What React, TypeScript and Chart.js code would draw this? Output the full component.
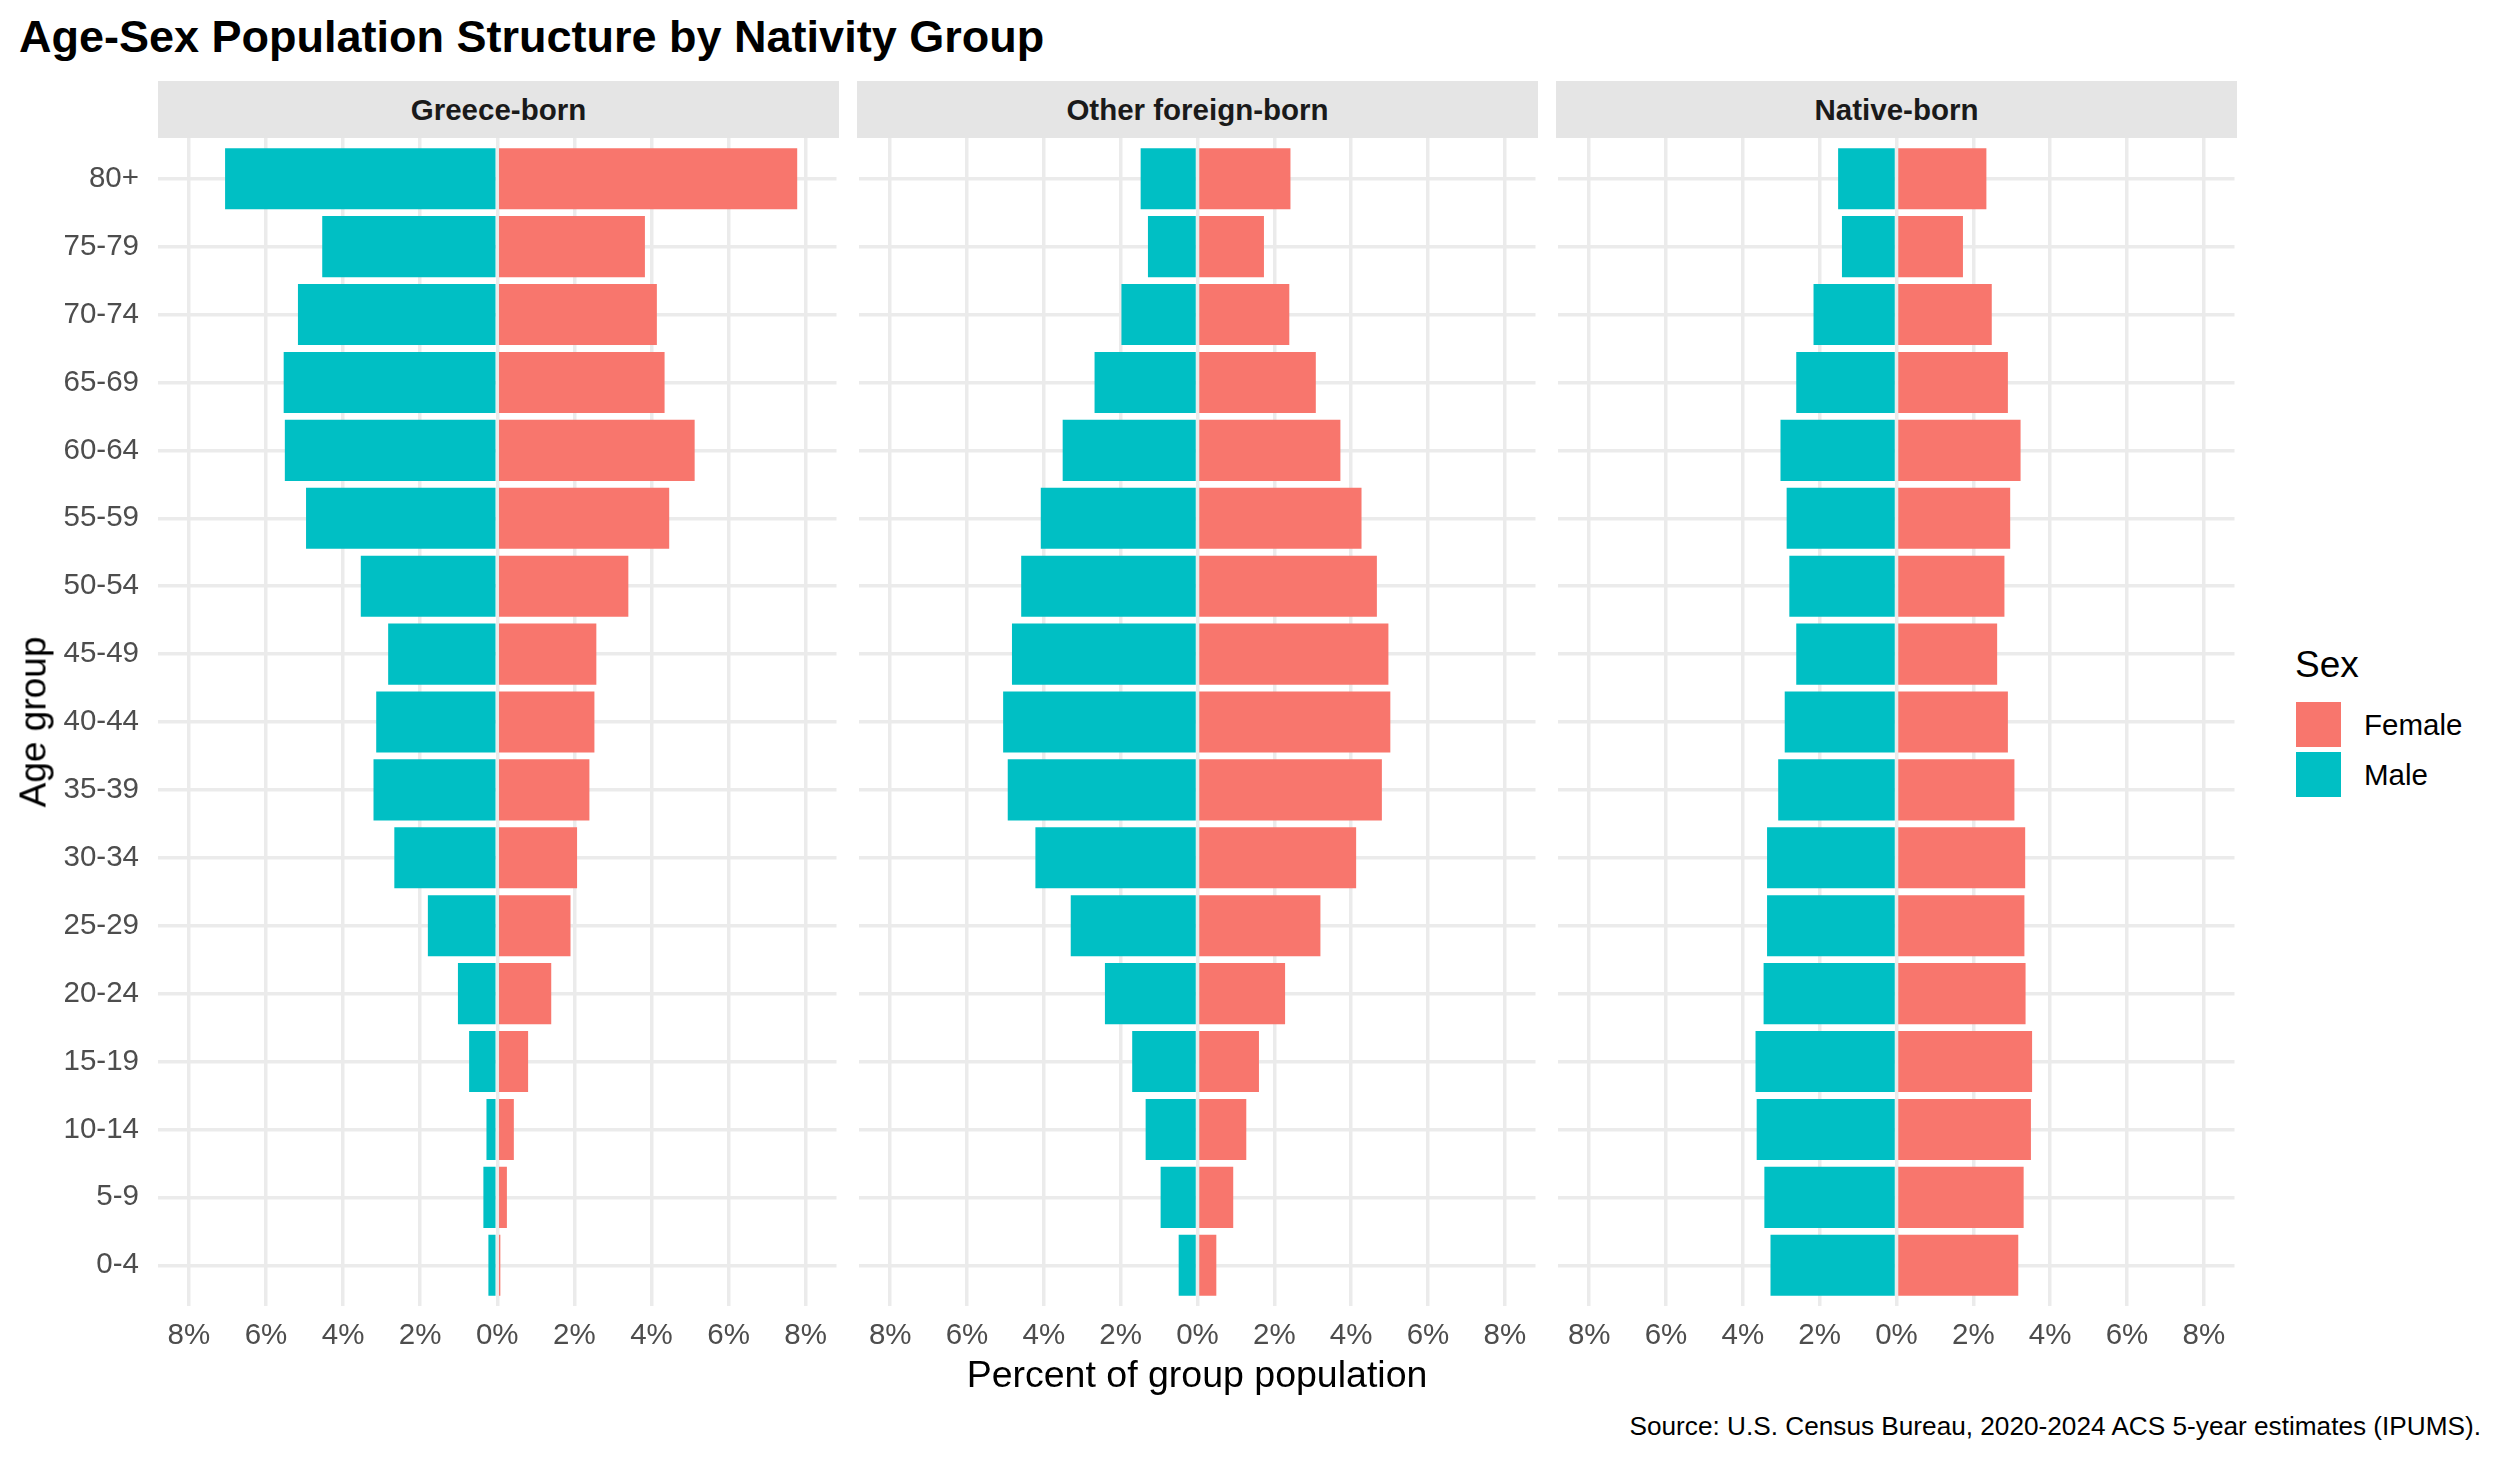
import React, { useEffect, useRef } from 'react';
import { Chart, registerables } from 'chart.js';

Chart.register(...registerables);

// ---------- data ----------
const ageGroups = ['80+', '75-79', '70-74', '65-69', '60-64', '55-59', '50-54', '45-49', '40-44', '35-39', '30-34', '25-29', '20-24', '15-19', '10-14', '5-9', '0-4'];
const panelNames = ['Greece-born', 'Other foreign-born', 'Native-born'];
const sexLabels = ['Female', 'Male'];

const greeceFemale = [7.78, 3.83, 4.14, 4.34, 5.12, 4.46, 3.40, 2.57, 2.52, 2.39, 2.07, 1.90, 1.40, 0.80, 0.43, 0.25, 0.08];
const greeceMale = [7.06, 4.54, 5.17, 5.54, 5.51, 4.96, 3.54, 2.83, 3.14, 3.21, 2.67, 1.80, 1.02, 0.73, 0.28, 0.36, 0.23];
const otherFemale = [2.42, 1.73, 2.39, 3.08, 3.72, 4.27, 4.67, 4.97, 5.02, 4.80, 4.13, 3.20, 2.28, 1.60, 1.27, 0.93, 0.49];
const otherMale = [1.48, 1.29, 1.98, 2.68, 3.51, 4.08, 4.59, 4.83, 5.06, 4.94, 4.22, 3.30, 2.41, 1.70, 1.35, 0.96, 0.49];
const nativeFemale = [2.34, 1.73, 2.48, 2.90, 3.23, 2.96, 2.81, 2.62, 2.90, 3.07, 3.35, 3.33, 3.36, 3.53, 3.50, 3.31, 3.17];
const nativeMale = [1.52, 1.42, 2.16, 2.61, 3.02, 2.86, 2.79, 2.61, 2.91, 3.08, 3.37, 3.37, 3.46, 3.67, 3.64, 3.44, 3.28];

const femaleSeries = [greeceFemale, otherFemale, nativeFemale];
const maleSeries = [greeceMale, otherMale, nativeMale];

const xTickValues = [-8, -6, -4, -2, 0, 2, 4, 6, 8];

// ---------- styles ----------
const FONT = '"Liberation Sans", Arial, Helvetica, sans-serif';
const FEMALE_COLOR = '#F8766D';
const MALE_COLOR = '#00BFC4';
const GRID_COLOR = '#EBEBEB';
const TICK_COLOR = '#4D4D4D';

const PLOT_TOP = 138;
const PLOT_H = 1168;
const PANEL_W = 681;
const PANEL_LEFT = [158, 857, 1556];
const X_AXIS_H = 60;
const Y_AXIS_W = 158;

function Panel({ idx }: { idx: number }) {
  const ref = useRef<HTMLCanvasElement>(null);
  useEffect(() => {
    const female = femaleSeries[idx];
    const male = maleSeries[idx];
    const chart = new Chart(ref.current as HTMLCanvasElement, {
      type: 'bar',
      data: {
        datasets: [
          {
            label: sexLabels[0],
            data: female.map((v, i) => ({ x: v, y: i })),
            backgroundColor: FEMALE_COLOR,
            borderWidth: 0,
            categoryPercentage: 0.9,
            barPercentage: 1,
          },
          {
            label: sexLabels[1],
            data: male.map((v, i) => ({ x: -v, y: i })),
            backgroundColor: MALE_COLOR,
            borderWidth: 0,
            categoryPercentage: 0.9,
            barPercentage: 1,
          },
        ],
      } as any,
      options: {
        indexAxis: 'y',
        responsive: false,
        animation: false,
        layout: { padding: 0 },
        plugins: { legend: { display: false }, tooltip: { enabled: false } },
        scales: {
          x: {
            type: 'linear',
            min: -8.8,
            max: 8.8,
            offset: false,
            stacked: true,
            afterBuildTicks: (s: any) => {
              s.ticks = xTickValues.map((v) => ({ value: v }));
            },
            afterFit: (s: any) => {
              s.height = X_AXIS_H;
            },
            grid: { color: GRID_COLOR, lineWidth: 3.5, drawTicks: false, offset: false },
            border: { display: false },
            ticks: {
              autoSkip: false,
              maxRotation: 0,
              minRotation: 0,
              padding: 12,
              color: TICK_COLOR,
              font: { family: FONT, size: 29.5 },
              callback: (v: any) => Math.abs(Number(v)) + '%',
            },
          },
          y: {
            type: 'linear',
            min: -0.6,
            max: 16.6,
            reverse: true,
            offset: false,
            stacked: true,
            afterBuildTicks: (s: any) => {
              s.ticks = ageGroups.map((_, i) => ({ value: i }));
            },
            afterFit: (s: any) => {
              s.width = idx === 0 ? Y_AXIS_W : 0;
              s.paddingTop = 0;
              s.paddingBottom = 0;
            },
            grid: { color: GRID_COLOR, lineWidth: 3.5, drawTicks: false, offset: false },
            border: { display: false },
            ticks: {
              display: idx === 0,
              autoSkip: false,
              padding: 19,
              color: TICK_COLOR,
              font: { family: FONT, size: 29.5 },
              callback: (v: any) => ageGroups[Number(v)],
            },
          },
        },
      } as any,
    });
    return () => chart.destroy();
  }, [idx]);

  const left = idx === 0 ? 0 : PANEL_LEFT[idx];
  const width = idx === 0 ? Y_AXIS_W + PANEL_W : PANEL_W;
  return (
    <canvas
      ref={ref}
      width={width}
      height={PLOT_H + X_AXIS_H}
      style={{ position: 'absolute', left, top: PLOT_TOP, width, height: PLOT_H + X_AXIS_H }}
    />
  );
}

function Txt(props: {
  x: number;
  baseline: number;
  size: number;
  bold?: boolean;
  color?: string;
  align?: 'left' | 'center' | 'right';
  children: React.ReactNode;
}) {
  const { x, baseline, size, bold, color, align = 'left', children } = props;
  const style: any = {
    position: 'absolute',
    top: baseline - 0.8465 * size,
    fontSize: size,
    lineHeight: size + 'px',
    whiteSpace: 'nowrap',
    fontWeight: bold ? 700 : 400,
    color: color || '#000',
    fontFamily: FONT,
  };
  if (align === 'left') style.left = x;
  else if (align === 'right') style.right = 2500 - x;
  else {
    style.left = x;
    style.transform = 'translateX(-50%)';
  }
  return <div style={style}>{children}</div>;
}

export default function App() {
  useEffect(() => {
    document.body.style.margin = '0';
  }, []);
  return (
    <div
      style={{
        position: 'absolute',
        left: 0,
        top: 0,
        width: 2500,
        height: 1458,
        background: '#fff',
        overflow: 'hidden',
        fontFamily: FONT,
      }}
    >
      <Txt x={19} baseline={52} size={45} bold>
        Age-Sex Population Structure by Nativity Group
      </Txt>

      {panelNames.map((name, i) => (
        <div
          key={name}
          style={{
            position: 'absolute',
            left: PANEL_LEFT[i],
            top: 81,
            width: PANEL_W,
            height: 57,
            background: '#E5E5E5',
          }}
        />
      ))}
      {panelNames.map((name, i) => (
        <Txt key={name + 't'} x={PANEL_LEFT[i] + PANEL_W / 2} baseline={120} size={29.5} bold color="#1A1A1A" align="center">
          {name}
        </Txt>
      ))}

      {panelNames.map((name, i) => (
        <Panel key={name + 'p'} idx={i} />
      ))}

      <Txt x={1197} baseline={1388} size={37.5} align="center">
        Percent of group population
      </Txt>

      <div
        style={{
          position: 'absolute',
          left: 33,
          top: 722,
          fontSize: 37,
          lineHeight: '37px',
          whiteSpace: 'nowrap',
          fontFamily: FONT,
          color: '#000',
          transform: 'translate(-50%, -50%) rotate(-90deg)',
        }}
      >
        Age group
      </div>

      <Txt x={2295} baseline={677} size={37}>
        Sex
      </Txt>
      <div style={{ position: 'absolute', left: 2296, top: 702, width: 45, height: 45, background: FEMALE_COLOR }} />
      <div style={{ position: 'absolute', left: 2296, top: 752, width: 45, height: 45, background: MALE_COLOR }} />
      <Txt x={2364} baseline={735} size={29.5}>
        {sexLabels[0]}
      </Txt>
      <Txt x={2364} baseline={785} size={29.5}>
        {sexLabels[1]}
      </Txt>

      <Txt x={2481} baseline={1435} size={26.2} align="right">
        Source: U.S. Census Bureau, 2020-2024 ACS 5-year estimates (IPUMS).
      </Txt>
    </div>
  );
}
